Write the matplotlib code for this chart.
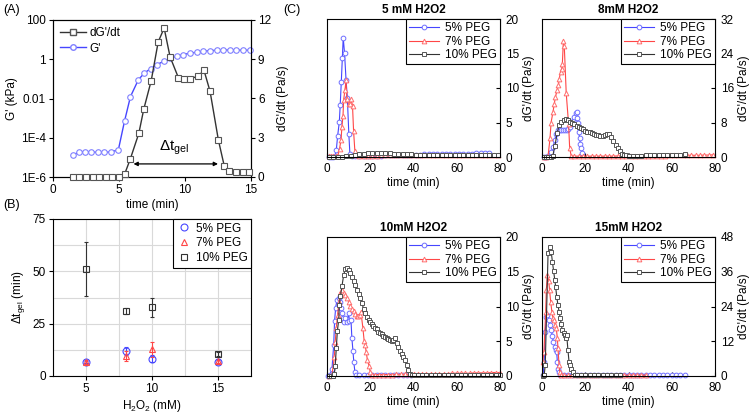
import matplotlib
matplotlib.use("Agg")
import matplotlib.pyplot as plt
from matplotlib.lines import Line2D

plt.rcParams['font.family'] = ['Liberation Sans', 'DejaVu Sans']
plt.rcParams['font.size'] = 8.5
plt.rcParams['mathtext.fontset'] = 'custom'
plt.rcParams['mathtext.rm'] = 'Liberation Sans'
plt.rcParams['axes.linewidth'] = 0.8

# ---- panel A: single gelation run ----
a_time_rate = [1.5, 2.0, 2.5, 3.0, 3.5, 4.0, 4.5, 5.0, 5.42, 5.85,
               6.5, 6.88, 7.44, 7.97, 8.42, 8.87, 9.5, 9.9, 10.39, 11.0,
               11.44, 11.9, 12.53, 12.98, 13.36, 13.9, 14.37, 14.82]
a_rate = [0, 0, 0, 0, 0, 0, 0, 0, 0.2, 1.36,
          3.33, 5.2, 7.36, 10.33, 11.38, 9.18, 7.59, 7.49, 7.49, 7.72,
          8.15, 6.54, 2.82, 0.82, 0.46, 0.36, 0.36, 0.36]
a_time_mod = [1.5, 1.94, 2.4, 2.86, 3.4, 3.9, 4.4, 4.95, 5.42, 5.87,
              6.47, 6.93, 7.39, 7.89, 8.4, 8.87, 9.38, 9.88, 10.39, 10.89,
              11.39, 11.9, 12.4, 12.9, 13.4, 13.9, 14.4, 14.9]
a_modulus = [1.3e-5, 1.8e-5, 1.9e-5, 1.9e-5, 1.8e-5, 1.8e-5, 1.9e-5, 2.4e-5, 7.1e-4, 0.0126,
             0.091, 0.2, 0.33, 0.54, 0.79, 1.12, 1.41, 1.74, 2.04, 2.29,
             2.57, 2.75, 2.88, 2.95, 2.95, 2.95, 2.88, 2.88]
a_gel_window = [6.1, 12.5]

# ---- panel B: gelation time ----
b_conc = [5, 8, 10, 15]
b_peg5 = [6.7, 11.8, 8.3, 6.7]
b_peg5_err = [0.5, 2.0, 1.5, 0.8]
b_peg7 = [6.7, 9.6, 12.8, 7.2]
b_peg7_err = [0.8, 2.5, 3.5, 1.0]
b_peg10 = [51.2, 31.2, 32.8, 10.6]
b_peg10_err = [13.0, 1.5, 4.6, 1.0]

# ---- panel C: rate curves ----
c5_t_peg5 = [1, 2, 3, 3.8, 4.3, 4.9, 5.7, 6.1, 6.6, 7.1,
             7.5, 8.1, 8.8, 9.4, 10.1, 10.6, 11.5, 13, 15, 17,
             19, 21, 23, 25, 27, 29, 31, 33, 35, 37,
             39, 41, 43, 45, 47, 49, 51, 53, 55, 57,
             59, 61, 63, 65, 67, 69, 71, 73, 75]
c5_v_peg5 = [0, 0, 0, 0.2, 1.0, 3.0, 5.1, 7.5, 10.8, 14.4,
             17.3, 15.1, 11.2, 8.6, 3.3, 0.4, 0.1, 0.1, 0.1, 0.15,
             0.15, 0.2, 0.2, 0.2, 0.25, 0.25, 0.3, 0.3, 0.3, 0.3,
             0.35, 0.35, 0.35, 0.4, 0.4, 0.4, 0.4, 0.45, 0.45, 0.45,
             0.5, 0.5, 0.5, 0.5, 0.5, 0.55, 0.55, 0.55, 0.55]
c5_t_peg7 = [1, 2, 3, 4, 5, 5.8, 6.5, 6.9, 7.4, 7.7,
             8.3, 8.8, 9.2, 10.0, 10.8, 11.2, 11.8, 12.3, 12.9, 13.6,
             15, 17, 19, 21, 23, 25, 27, 29, 31, 33,
             35, 37, 39, 41, 43, 45, 47, 49, 51, 53,
             55, 57, 59, 61, 63, 65, 67, 69, 71, 73,
             75, 77, 79]
c5_v_peg7 = [0.1, 0.1, 0.1, 0.1, 0.2, 1.2, 2.5, 4.4, 6.0, 8.3,
             9.7, 11.1, 8.4, 7.7, 7.7, 8.4, 7.4, 3.7, 0.8, 0.3,
             0.2, 0.2, 0.2, 0.2, 0.2, 0.25, 0.25, 0.25, 0.25, 0.25,
             0.25, 0.25, 0.25, 0.3, 0.3, 0.3, 0.3, 0.3, 0.3, 0.3,
             0.3, 0.3, 0.3, 0.3, 0.3, 0.3, 0.3, 0.3, 0.3, 0.3,
             0.3, 0.3, 0.3]
c5_t_peg10 = [1, 3, 5, 7, 9, 11, 13, 15, 17, 19,
              21, 23, 25, 27, 29, 31, 33, 35, 37, 39,
              41, 43, 45, 47, 49, 51, 53, 55, 57, 59,
              61, 63, 65, 67, 69, 71, 73, 75, 77, 79]
c5_v_peg10 = [0, 0, 0, 0.05, 0.1, 0.2, 0.3, 0.4, 0.5, 0.6,
              0.6, 0.6, 0.6, 0.6, 0.55, 0.5, 0.45, 0.45, 0.4, 0.4,
              0.35, 0.3, 0.3, 0.3, 0.3, 0.25, 0.25, 0.25, 0.25, 0.25,
              0.25, 0.25, 0.25, 0.25, 0.25, 0.25, 0.25, 0.25, 0.25, 0.25]

c8_t_peg5 = [1, 2, 3, 4.3, 5.1, 5.9, 6.6, 7.4, 8.2, 9.0,
             9.8, 10.6, 11.4, 12.2, 12.9, 13.6, 14.3, 15.0, 15.6, 16.0,
             16.3, 16.6, 17.0, 17.4, 17.8, 18.2, 18.6]
c8_v_peg5 = [0, 0, 0.2, 1.2, 2.3, 3.9, 5.4, 6.2, 6.2, 6.2,
             6.2, 6.2, 6.3, 6.6, 7.0, 7.6, 8.4, 9.3, 10.2, 10.4,
             9.1, 7.8, 5.9, 4.3, 3.0, 2.0, 1.0]
c8_t_peg7 = [1, 2, 2.8, 3.7, 4.2, 5.1, 5.7, 6.2, 7.0, 7.6,
             8.0, 8.6, 9.1, 9.4, 9.9, 10.3, 11.2, 12.3, 12.8, 13.5,
             15, 17, 19, 21, 23, 25, 27, 29, 31, 33,
             35, 37, 39, 41, 43, 45, 47, 49, 51, 53,
             55, 57, 59, 61, 63, 65, 67, 69, 71, 73,
             75, 77, 79]
c8_v_peg7 = [0, 0, 0.2, 4.3, 8.0, 10.5, 12.4, 13.9, 15.5, 16.7,
             18.2, 19.8, 20.5, 21.5, 27.0, 25.8, 14.8, 7.6, 2.0, 0.3,
             0.2, 0.2, 0.2, 0.2, 0.2, 0.2, 0.2, 0.2, 0.2, 0.2,
             0.25, 0.25, 0.25, 0.25, 0.25, 0.3, 0.3, 0.3, 0.3, 0.3,
             0.3, 0.3, 0.35, 0.35, 0.35, 0.35, 0.4, 0.4, 0.4, 0.4,
             0.45, 0.45, 0.5]
c8_t_peg10 = [1, 2, 3, 4, 5, 6, 7, 8, 9, 10,
              11, 12, 13, 14, 15, 16, 17, 18, 19, 20,
              21, 22, 23, 24, 25, 26, 27, 28, 29, 30,
              31, 32, 33, 34, 35, 36, 37, 38, 39, 40,
              42, 44, 46, 48, 50, 52, 54, 56, 58, 60,
              62, 64, 66]
c8_v_peg10 = [0, 0, 0, 0, 0.3, 2.6, 5.6, 7.5, 8.2, 8.6,
              8.7, 8.5, 8.2, 7.9, 7.6, 7.3, 7.0, 6.7, 6.4, 6.1,
              5.9, 5.7, 5.5, 5.3, 5.1, 5.0, 4.9, 4.9, 5.0, 5.3,
              5.4, 4.7, 3.7, 2.8, 2.0, 1.3, 0.8, 0.5, 0.4, 0.3,
              0.3, 0.3, 0.3, 0.35, 0.35, 0.4, 0.4, 0.4, 0.45, 0.45,
              0.5, 0.5, 0.6]

c10_t_peg5 = [0.5, 1.2, 2.3, 3.1, 3.5, 4.0, 4.6, 5.4, 5.8, 6.5,
              6.9, 7.4, 8.0, 8.4, 9.2, 10.0, 10.4, 11.1, 11.5, 12.0,
              12.4, 12.9, 13.5, 15, 17, 19, 21, 23, 25, 27,
              29, 31, 33, 35, 37, 39]
c10_v_peg5 = [0, 0.1, 1.0, 4.5, 7.9, 9.8, 10.9, 11.2, 10.7, 9.8,
              9.0, 8.3, 7.7, 8.3, 7.8, 9.0, 7.9, 8.0, 5.5, 3.6,
              2.0, 0.6, 0.1, 0.1, 0.1, 0.1, 0.1, 0.15, 0.15, 0.15,
              0.15, 0.2, 0.2, 0.2, 0.2, 0.2]
c10_t_peg7 = [1, 2.3, 3.4, 3.8, 4.3, 4.9, 5.5, 6.1, 6.9, 7.7,
              8.4, 9.2, 10.0, 10.8, 11.5, 12.3, 13.1, 13.8, 14.5, 15.1,
              15.7, 16.6, 17.2, 17.7, 18.1, 18.7, 19.4, 20.0, 20.6, 22,
              24, 26, 28, 30, 32, 34, 36, 38, 40, 42,
              44, 46, 48, 50, 52, 54, 56, 58, 60, 62,
              64, 66, 68, 70, 72, 74, 76, 78, 80]
c10_v_peg7 = [0, 0.1, 2.7, 4.9, 6.9, 8.8, 10.7, 12.0, 12.4, 12.0,
              11.7, 11.2, 10.7, 10.1, 9.6, 9.3, 8.9, 8.7, 8.6, 8.8,
              9.2, 6.9, 5.0, 4.4, 3.5, 2.3, 1.5, 0.6, 0.2, 0.2,
              0.2, 0.2, 0.2, 0.2, 0.25, 0.25, 0.25, 0.25, 0.3, 0.3,
              0.3, 0.3, 0.3, 0.35, 0.35, 0.35, 0.35, 0.4, 0.4, 0.4,
              0.4, 0.4, 0.45, 0.45, 0.45, 0.45, 0.5, 0.5, 0.5]
c10_t_peg10 = [1, 2, 3, 3.4, 3.8, 4.3, 4.8, 5.4, 5.7, 6.2,
               6.9, 7.7, 8.4, 9.2, 10.0, 10.8, 11.5, 12.3, 13.1, 13.8,
               14.6, 15.4, 16.1, 16.9, 17.7, 18.4, 19.2, 20.0, 20.8, 21.5,
               22.3, 23.0, 23.8, 24.6, 25.3, 26.1, 26.9, 27.6, 28.4, 29.2,
               30.0, 30.7, 31.5, 32.3, 33.0, 33.8, 34.6, 35.3, 36.1, 36.9,
               37.6, 38.4, 39.2, 40, 42, 44, 46, 48, 50, 52,
               54, 56, 58, 60, 62, 64, 66, 68, 70, 72,
               74, 76, 78, 80]
c10_v_peg10 = [0, 0, 0, 0.3, 1.5, 4.0, 6.5, 8.0, 10.2, 11.5,
               12.9, 14.5, 15.4, 15.6, 15.3, 14.8, 14.3, 13.7, 13.1, 12.4,
               11.8, 11.2, 10.5, 9.7, 9.1, 8.5, 8.1, 7.8, 7.5, 7.2,
               6.9, 6.7, 6.4, 6.2, 6.0, 5.8, 5.6, 5.4, 5.3, 5.2,
               5.1, 5.2, 5.5, 4.8, 4.2, 3.6, 3.2, 2.7, 2.3, 1.6,
               0.8, 0.3, 0.2, 0.2, 0.2, 0.2, 0.2, 0.2, 0.2, 0.2,
               0.2, 0.2, 0.2, 0.2, 0.2, 0.2, 0.2, 0.2, 0.2, 0.2,
               0.2, 0.2, 0.2, 0.2]

c15_t_peg5 = [0.5, 1.0, 1.5, 2.0, 2.5, 3.1, 3.5, 4.3, 4.8, 5.2,
              5.9, 6.3, 6.8, 7.1, 7.4, 7.7, 8.2, 10, 12, 14,
              16, 18, 20, 22, 24, 26, 28, 30, 32, 34,
              36, 38, 40, 42, 44, 46, 48, 50, 52, 54,
              56, 58, 60, 62, 64, 66]
c15_v_peg5 = [0.2, 4.9, 15.3, 20.5, 21.0, 19.3, 17.6, 15.8, 13.8, 11.8,
              10.1, 8.9, 8.3, 4.9, 2.5, 1.4, 0.5, 0.2, 0.2, 0.2,
              0.2, 0.2, 0.2, 0.2, 0.2, 0.2, 0.2, 0.2, 0.2, 0.2,
              0.2, 0.2, 0.2, 0.2, 0.2, 0.2, 0.25, 0.25, 0.25, 0.25,
              0.3, 0.3, 0.3, 0.3, 0.3, 0.3]
c15_t_peg7 = [0.3, 0.9, 1.7, 2.0, 2.5, 3.1, 3.5, 4.0, 4.6, 5.1,
              5.5, 6.2, 6.6, 7.1, 7.4, 7.9, 8.2, 8.9, 10, 12,
              14, 16, 18, 20, 22, 24, 26, 28, 30, 32,
              34, 36, 38, 40, 42, 44, 46, 48]
c15_v_peg7 = [4.9, 8.3, 22.0, 29.7, 34.9, 32.8, 29.7, 25.7, 22.0, 19.9,
              19.4, 17.6, 16.6, 13.0, 9.5, 3.7, 1.4, 0.2, 0.2, 0.2,
              0.2, 0.2, 0.2, 0.2, 0.2, 0.2, 0.2, 0.2, 0.2, 0.2,
              0.3, 0.3, 0.3, 0.3, 0.3, 0.3, 0.3, 0.3]
c15_t_peg10 = [0.5, 1.0, 1.5, 2.8, 3.5, 4.3, 4.8, 5.4, 5.9, 6.3,
               6.8, 7.4, 7.9, 8.5, 8.9, 9.4, 10.0, 10.5, 10.9, 11.4,
               12.0, 12.5, 12.9, 13.6, 14.3, 15.1, 16, 18, 20, 22,
               24, 26, 28, 30, 32, 34, 36]
c15_v_peg10 = [0.1, 0.3, 3.7, 42.4, 44.4, 42.7, 39.5, 36.1, 33.2, 30.9,
               27.4, 24.5, 22.2, 19.9, 17.8, 15.8, 14.9, 14.1, 13.2, 14.3,
               8.9, 4.9, 3.9, 2.5, 1.4, 0.2, 0.2, 0.2, 0.2, 0.2,
               0.2, 0.2, 0.2, 0.2, 0.2, 0.2, 0.2]

peg_labels = ['5% PEG', '7% PEG', '10% PEG']
BLUE, BLUE_M = '#4646ff', '#6e6eff'
RED, RED_M = '#ff4646', '#ff6e6e'
BLACK, BLACK_M = '#333333', '#555555'

W, H = 753, 413
fig = plt.figure(figsize=(W / 100, H / 100), dpi=100)


def box(x0, y0, x1, y1):
    # pixel box (left, top, right, bottom) -> figure fraction rect
    return [x0 / W, 1 - y1 / H, (x1 - x0) / W, (y1 - y0) / H]


# ================= (A) =================
axA = fig.add_axes(box(53, 20, 251, 177))
axA2 = axA.twinx()
axA.plot(a_time_mod, a_modulus, color=BLUE, lw=1.0, marker='o', ms=4,
         mfc='white', mec='#8080ff', mew=0.8, clip_on=False, zorder=3)
axA2.plot(a_time_rate, a_rate, color=BLACK, lw=1.0, marker='s', ms=4,
          mfc='white', mec='#555555', mew=0.8, clip_on=False, zorder=3)
axA.set_yscale('log')
axA.set_ylim(1e-6, 100)
axA.set_yticks([1e-6, 1e-4, 1e-2, 1, 100])
axA.set_yticklabels(['1E-6', '1E-4', '0.01', '1', '100'])
axA.yaxis.set_minor_locator(matplotlib.ticker.NullLocator())
axA.set_xlim(0, 15)
axA.set_xticks([0, 5, 10, 15])
axA2.set_ylim(0, 12)
axA2.set_yticks([0, 3, 6, 9, 12])
axA.set_xlabel('time (min)', labelpad=2)
axA.set_ylabel("G' (kPa)", labelpad=2)
axA2.set_ylabel("dG'/dt (Pa/s)", labelpad=4)
for a in (axA, axA2):
    a.tick_params(direction='out', length=3, width=0.8, labelsize=8.5, pad=2)
axA2.annotate('', xy=(a_gel_window[0], 1.0), xytext=(a_gel_window[1], 1.0),
              arrowprops=dict(arrowstyle='<|-|>', color='black', lw=0.9,
                              mutation_scale=6, shrinkA=0, shrinkB=0))
axA2.text(9.2, 1.55, r'$\mathregular{\Delta t_{gel}}$', fontsize=11, ha='center', va='bottom')
handlesA = [Line2D([], [], color=BLACK, lw=1.0, marker='s', ms=4, mfc='white', mec='#555555'),
            Line2D([], [], color=BLUE, lw=1.0, marker='o', ms=4, mfc='white', mec='#8080ff')]
axA.legend(handlesA, ["dG'/dt", "G'"], loc='upper left', frameon=False, fontsize=8.5,
           handlelength=2.2, handletextpad=0.3, borderaxespad=0.2, labelspacing=0.3)

# ================= (B) =================
axB = fig.add_axes(box(53, 219, 251, 376))
handlesB = []
for yv, err, col, mk in [(b_peg5, b_peg5_err, BLUE, 'o'),
                         (b_peg7, b_peg7_err, RED, '^'),
                         (b_peg10, b_peg10_err, BLACK, 's')]:
    axB.errorbar(b_conc, yv, yerr=err, fmt=mk, ms=5, mfc='none', mec=col, mew=0.8,
                 ecolor=col, elinewidth=0.8, capsize=1.5, capthick=0.8, zorder=3)
    handlesB.append(Line2D([], [], ls='none', marker=mk, ms=5, mfc='none', mec=col, mew=0.8))
axB.set_xlim(2.5, 17.5)
axB.set_ylim(0, 75)
axB.set_xticks([5, 10, 15])
axB.set_xticks([2.5, 7.5, 12.5, 17.5], minor=True)
axB.set_yticks([0, 25, 50, 75])
axB.set_yticks([12.5, 37.5, 62.5], minor=True)
axB.grid(True, which='both', color='#d9d9d9', lw=0.8, zorder=0)
axB.set_axisbelow(True)
axB.tick_params(which='major', direction='out', length=3, width=0.8, labelsize=8.5, pad=2)
axB.tick_params(which='minor', length=0)
axB.set_xlabel(r'H$\mathregular{_2}$O$\mathregular{_2}$ (mM)', labelpad=2)
axB.set_ylabel(r'$\mathregular{\Delta t_{gel}}$ (min)', labelpad=4)
legB = axB.legend(handlesB, peg_labels, loc='upper right', fontsize=8.5, borderaxespad=0,
                  fancybox=False, edgecolor='black', framealpha=1, handletextpad=0.4,
                  handlelength=1.2, labelspacing=0.25, borderpad=0.3)
legB.get_frame().set_linewidth(0.8)

# ================= (C) =================
c_panels = [
    (box(327, 19, 500, 157), '5 mM H2O2', [0, 5, 10, 15, 20],
     [(c5_t_peg5, c5_v_peg5), (c5_t_peg7, c5_v_peg7), (c5_t_peg10, c5_v_peg10)]),
    (box(542, 19, 715, 157), '8mM H2O2', [0, 8, 16, 24, 32],
     [(c8_t_peg5, c8_v_peg5), (c8_t_peg7, c8_v_peg7), (c8_t_peg10, c8_v_peg10)]),
    (box(327, 237, 500, 376), '10mM H2O2', [0, 5, 10, 15, 20],
     [(c10_t_peg5, c10_v_peg5), (c10_t_peg7, c10_v_peg7), (c10_t_peg10, c10_v_peg10)]),
    (box(542, 237, 715, 376), '15mM H2O2', [0, 12, 24, 36, 48],
     [(c15_t_peg5, c15_v_peg5), (c15_t_peg7, c15_v_peg7), (c15_t_peg10, c15_v_peg10)]),
]
styles = [(BLUE, BLUE_M, 'o'), (RED, RED_M, '^'), (BLACK, BLACK_M, 's')]

for rect, title, yt, series in c_panels:
    ax = fig.add_axes(rect)
    for (tt, vv), (lc, mc, mk), lab in zip(series, styles, peg_labels):
        ax.plot(tt, vv, color=lc, lw=0.8, marker=mk, ms=3.4, mfc='white', mec=mc,
                mew=0.7, label=lab, clip_on=False)
    ax.set_xlim(0, 80)
    ax.set_ylim(yt[0], yt[-1])
    ax.set_xticks([0, 20, 40, 60, 80])
    ax.set_yticks(yt)
    ax.yaxis.tick_right()
    ax.yaxis.set_label_position('right')
    ax.tick_params(direction='in', length=3, width=0.8, labelsize=8.5)
    ax.tick_params(axis='x', pad=4)
    ax.tick_params(axis='y', pad=4)
    ax.set_ylabel("dG'/dt (Pa/s)", labelpad=3)
    ax.set_xlabel('time (min)', labelpad=2)
    ax.set_title(title, fontsize=8.5, fontweight='bold', pad=4)
    leg = ax.legend(loc='upper right', fontsize=8.5, borderaxespad=0, fancybox=False,
                    edgecolor='black', framealpha=1, handlelength=2.6, handletextpad=0.5,
                    labelspacing=0.15, borderpad=0.25)
    leg.get_frame().set_linewidth(0.8)

fig.text(3 / W, 1 - 10 / H, '(A)', fontsize=9, va='center', ha='left')
fig.text(3 / W, 1 - 205 / H, '(B)', fontsize=9, va='center', ha='left')
fig.text(283 / W, 1 - 10 / H, '(C)', fontsize=9, va='center', ha='left')

fig.savefig('out.png', dpi=100)
